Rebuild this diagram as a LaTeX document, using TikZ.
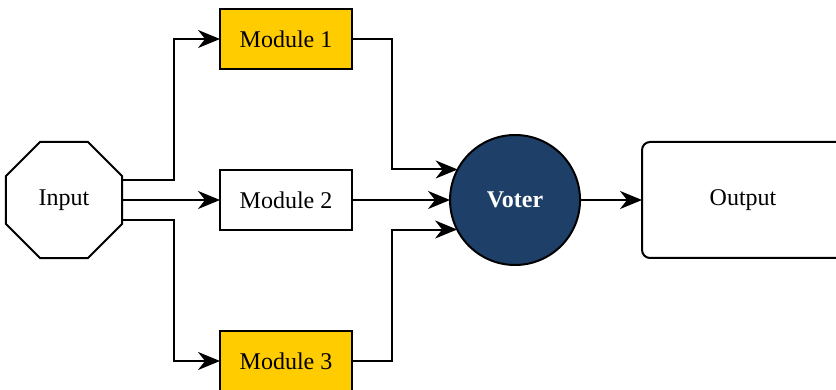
\documentclass[tikz,border=0pt]{standalone}
\usepackage{fontspec}
\setmainfont{Liberation Serif}
\usetikzlibrary{positioning,calc,shapes.geometric,arrows.meta}
\definecolor{modyellow}{RGB}{255,204,0}
\definecolor{voterblue}{RGB}{30,64,104}

\begin{document}
\begin{tikzpicture}[
x=1pt, y=-1pt,
font=\fontsize{24}{28}\selectfont,
octnode/.style={regular polygon, regular polygon sides=8, draw=black, fill=white, line width=2pt, minimum size=125.6pt, inner sep=0pt, outer sep=0pt},
modnode/.style={rectangle, draw=black, fill=white, line width=2pt, minimum width=132pt, minimum height=60pt, inner sep=0pt, outer sep=0pt},
voternode/.style={circle, draw=black, fill=voterblue, line width=2pt, minimum size=130pt, inner sep=0pt, outer sep=0pt, text=white, font=\fontsize{24}{28}\selectfont\bfseries},
outnode/.style={rectangle, rounded corners=8pt, draw=black, fill=white, line width=2pt, minimum width=202pt, minimum height=116pt, inner sep=0pt, outer sep=0pt},
flow/.style={-{Stealth[length=22pt,width=18pt,inset=7pt]}, line width=2pt},
]
\useasboundingbox (0,0) rectangle (836,390);
\clip (0,0) rectangle (836,390);
%Nodes
\node[octnode]                          (in)   at (64,200) {Input};
\node[modnode, right=98pt of in]        (m2)   {Module 2};
\node[modnode, fill=modyellow, above=101pt of m2] (m1) {Module 1};
\node[modnode, fill=modyellow, below=101pt of m2] (m3) {Module 3};
\node[voternode, right=98pt of m2]      (vt)   {Voter};
\node[outnode, right=62pt of vt]        (out)  {Output};
%Bends
\coordinate (jl) at ($(in.east)+(52,0)$);
\coordinate (jr) at ($(m2.east)+(40,0)$);
%Lines
\draw[flow] ($(in.east)+(0,-20)$) -| (jl |- m1.west) -- (m1.west);
\draw[flow] (in.east) -- (m2.west);
\draw[flow] ($(in.east)+(0,20)$) -| (jl |- m3.west) -- (m3.west);
\draw[flow] (m1.east) -| (jr |- vt.152.5) -- (vt.152.5);
\draw[flow] (m2.east) -- (vt.west);
\draw[flow] (m3.east) -| (jr |- vt.207.5) -- (vt.207.5);
\draw[flow] (vt) -- (out);
\end{tikzpicture}
\end{document}
